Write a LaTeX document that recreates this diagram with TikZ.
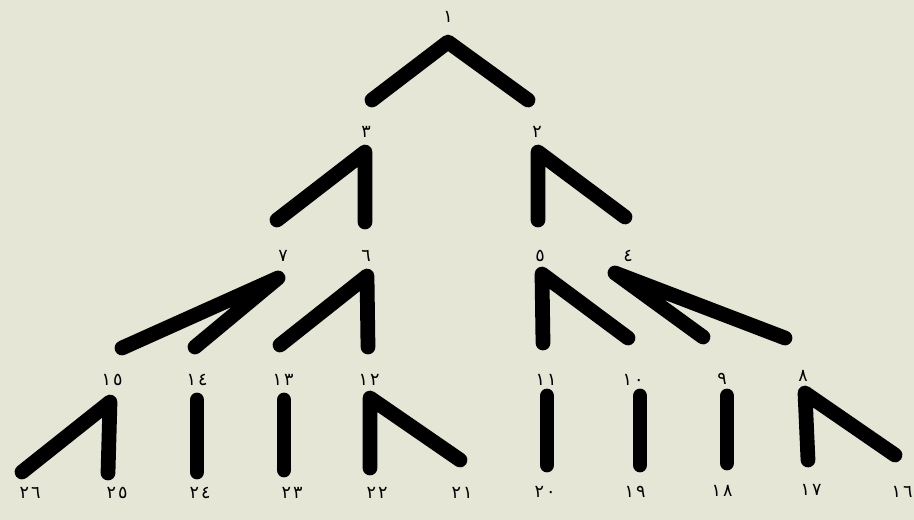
\documentclass[tikz,border=0pt]{standalone}
\usepackage{fontspec}
\newfontfamily\arabicfont[Script=Arabic,LetterSpace=12]{DejaVu Sans}
\usepackage{tikz}
\usetikzlibrary{positioning}
\definecolor{paper}{RGB}{230,230,214}

\begin{document}
\begin{tikzpicture}[x=0.02cm, y=-0.02cm,
          every node/.style={font=\arabicfont\fontsize{10}{12}\selectfont, inner sep=0pt},
          num/.style={text=black},
          limb/.style={line width=8.4pt, line cap=round, line join=round}]
        \fill[paper] (0,0) rectangle (914,520);
        % labels, level by level
        \node[num] (n1)  at (448,17)  {١};
        \node[num] (n3)  at (366,132) {٣};
        \node[num] (n2)  at (537,132) {٢};
        \node[num] (n7)  at (283,256) {٧};
        \node[num] (n6)  at (366,256) {٦};
        \node[num] (n5)  at (540,256) {٥};
        \node[num] (n4)  at (628,256) {٤};
        \node[num] (n15) at (112,380) {١٥};
        \node[num] (n14) at (197,380) {١٤};
        \node[num] (n13) at (283,380) {١٣};
        \node[num] (n12) at (369,380) {١٢};
        \node[num] (n11) at (546,380) {١١};
        \node[num] (n10) at (633,380) {١٠};
        \node[num] (n9)  at (722,379) {٩};
        \node[num] (n8)  at (803,376) {٨};
        \node[num] (n26) at (30,493)  {٢٦};
        \node[num] (n25) at (117,493) {٢٥};
        \node[num] (n24) at (200,493) {٢٤};
        \node[num] (n23) at (292,493) {٢٣};
        \node[num] (n22) at (377,493) {٢٢};
        \node[num] (n21) at (462,493) {٢١};
        \node[num] (n20) at (545,492) {٢٠};
        \node[num] (n19) at (635,492) {١٩};
        \node[num] (n18) at (722,491) {١٨};
        \node[num] (n17) at (811,490) {١٧};
        \node[num] (n16) at (902,492) {١٦};
        % branch tips
        \coordinate (t1)  at (448,42);
        \coordinate (t3)  at (365,152);
        \coordinate (t2)  at (538,152);
        \coordinate (t7)  at (278,278);
        \coordinate (t6)  at (367,276);
        \coordinate (t5)  at (542,274);
        \coordinate (t4)  at (615,273);
        \coordinate (t15) at (110,402);
        \coordinate (t14) at (197,400);
        \coordinate (t13) at (284,400);
        \coordinate (t12) at (370,398);
        \coordinate (t11) at (547,396);
        \coordinate (t10) at (640,396);
        \coordinate (t9)  at (727,396);
        \coordinate (t8)  at (805,393);
        % branch ends
        \coordinate (e3)  at (372,100);
        \coordinate (e2)  at (528,100);
        \coordinate (e7)  at (277,220);
        \coordinate (e6)  at (365,222);
        \coordinate (e5)  at (538,220);
        \coordinate (e4)  at (625,217);
        \coordinate (e15) at (122,348);
        \coordinate (e14) at (195,347);
        \coordinate (e13) at (280,345);
        \coordinate (e12) at (368,347);
        \coordinate (e11) at (543,343);
        \coordinate (e10) at (628,338);
        \coordinate (e9)  at (703,337);
        \coordinate (e8)  at (785,338);
        \coordinate (e26) at (22,472);
        \coordinate (e25) at (108,473);
        \coordinate (e24) at (197,472);
        \coordinate (e23) at (284,470);
        \coordinate (e22) at (370,468);
        \coordinate (e21) at (460,460);
        \coordinate (e20) at (547,465);
        \coordinate (e19) at (640,465);
        \coordinate (e18) at (727,463);
        \coordinate (e17) at (808,460);
        \coordinate (e16) at (895,455);
        % strokes
        \draw[limb] (e3)  -- (t1)  -- (e2);
        \draw[limb] (e7)  -- (t3)  -- (e6);
        \draw[limb] (e5)  -- (t2)  -- (e4);
        \draw[limb] (e15) -- (t7)  -- (e14);
        \draw[limb] (e13) -- (t6)  -- (e12);
        \draw[limb] (e11) -- (t5)  -- (e10);
        \draw[limb] (e9)  -- (t4)  -- (e8);
        \draw[limb] (e26) -- (t15) -- (e25);
        \draw[limb] (t14) -- (e24);
        \draw[limb] (t13) -- (e23);
        \draw[limb] (e22) -- (t12) -- (e21);
        \draw[limb] (t11) -- (e20);
        \draw[limb] (t10) -- (e19);
        \draw[limb] (t9)  -- (e18);
        \draw[limb] (e17) -- (t8)  -- (e16);
      \end{tikzpicture}
\end{document}
